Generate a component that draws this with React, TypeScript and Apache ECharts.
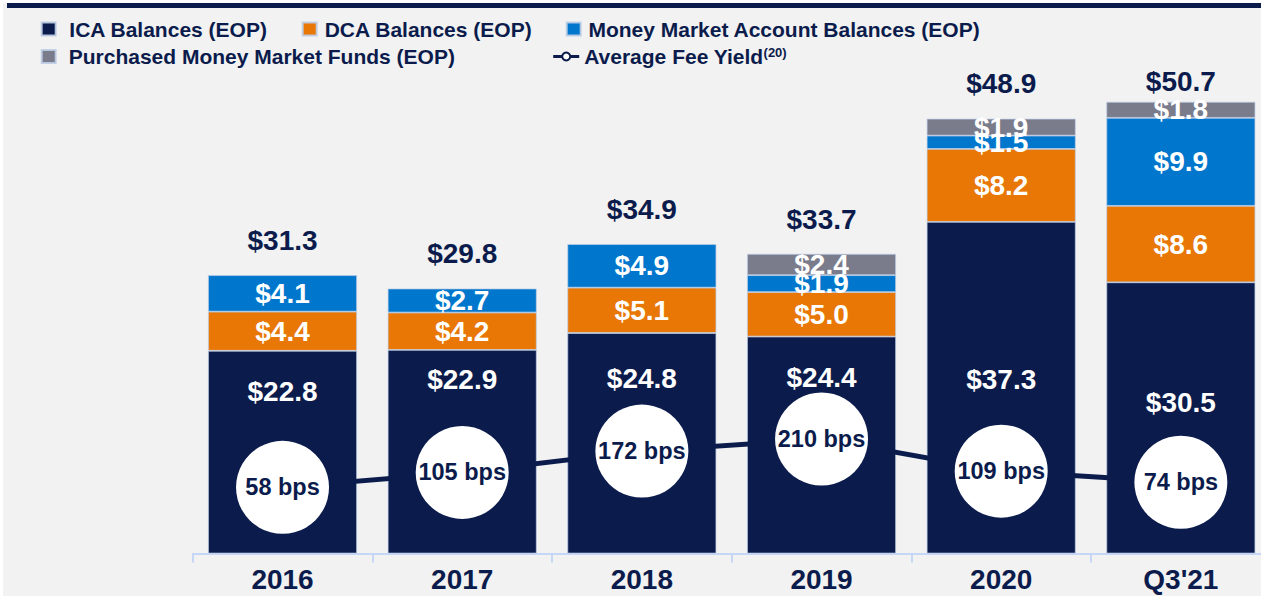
import React, { useEffect, useRef } from "react";
import * as echarts from "echarts";

const categories = ["2016", "2017", "2018", "2019", "2020", "Q3'21"];
const icaBalances = [22.8, 22.9, 24.8, 24.4, 37.3, 30.5];
const dcaBalances = [4.4, 4.2, 5.1, 5.0, 8.2, 8.6];
const mmaBalances = [4.1, 2.7, 4.9, 1.9, 1.5, 9.9];
const purchasedMmf = [null, null, null, 2.4, 1.9, 1.8];
const totals = [31.3, 29.8, 34.9, 33.7, 48.9, 50.7];
const feeYieldBps = [58, 105, 172, 210, 109, 74];

// label placement tweaks (style only)
const icaLabelShift = [-61, -72, -65, -68, -8, -15];
const totalLabelGap = [21, 21, 20, 20, 21, 7];

const NAVY = "#0b1c4c";
const ORANGE = "#e87706";
const BLUE = "#0077cc";
const GRAY = "#7a7c8c";
const FONT = "'Liberation Sans', Arial, sans-serif";

const money = (v: number) => "$" + v.toFixed(1);

export default function App() {
  const ref = useRef<HTMLDivElement>(null);
  useEffect(() => {
    if (!ref.current) return;
    const chart = echarts.init(ref.current, undefined, { renderer: "svg" });
    const segLabel = {
      show: true,
      position: "inside",
      color: "#ffffff",
      fontFamily: FONT,
      fontWeight: "bold",
      fontSize: 28,
      formatter: (p: any) => (p.value == null ? "" : money(p.value)),
    };
    const barItem = (color: string) => ({
      color,
      borderColor: "rgba(190,205,230,0.9)",
      borderWidth: 0.8,
    });
    const legendText = (pad: number) => ({
      color: NAVY,
      fontFamily: FONT,
      fontWeight: "bold",
      fontSize: 21,
      lineHeight: 22,
      padding: [0, 0, 0, pad],
      rich: {
        a: { color: NAVY, fontFamily: FONT, fontWeight: "bold", fontSize: 21, lineHeight: 22 },
        s: { color: NAVY, fontFamily: FONT, fontWeight: "bold", fontSize: 13, lineHeight: 22, verticalAlign: "top", padding: [0, 0, 6, 0] },
      },
    });
    const sqLegend = (name: string, left: number, top: number, pad: number) => ({
      data: [name],
      left,
      top,
      padding: 0,
      itemWidth: 14,
      itemHeight: 13,
      icon: "rect",
      selectedMode: false,
      textStyle: legendText(pad),
    });
    const option: any = {
      animation: false,
      backgroundColor: "#ffffff",
      graphic: [
        { type: "rect", z: -10, shape: { x: 3, y: 3, width: 1258, height: 593 }, style: { fill: "#f2f2f2" }, silent: true },
        { type: "rect", z: -9, shape: { x: 7, y: 3, width: 1254, height: 5 }, style: { fill: NAVY }, silent: true },
      ],
      legend: [
        sqLegend("ICA Balances (EOP)", 40.7, 18, 8.6),
        sqLegend("DCA Balances (EOP)", 301.7, 18, 3),
        sqLegend("Money Market Account Balances (EOP)", 565.7, 18, 2.7),
        sqLegend("Purchased Money Market Funds (EOP)", 40.7, 45.5, 8),
        {
          data: ["Average Fee Yield"],
          left: 551.7,
          top: 45.5,
          padding: 0,
          itemWidth: 26,
          itemHeight: 10,
          selectedMode: false,
          itemStyle: { color: "#ffffff", borderColor: NAVY, borderWidth: 2 },
          lineStyle: { color: NAVY, width: 3 },
          formatter: () => "{a|Average Fee Yield}{s|(20)}",
          textStyle: legendText(0),
        },
      ],
      grid: { left: 192.7, top: 20, width: 1078, height: 533.5, outerBoundsMode: "none", containLabel: false },
      xAxis: {
        type: "category",
        data: categories,
        axisLine: { show: true, lineStyle: { color: "#c6d6f6", width: 2 } },
        axisTick: { show: true, length: 9, alignWithLabel: false, lineStyle: { color: "#c6d6f6", width: 2 } },
        axisLabel: { margin: 12, fontSize: 28, fontWeight: "bold", color: NAVY, fontFamily: FONT },
        splitLine: { show: false },
      },
      yAxis: [
        { type: "value", min: 0, max: 60, show: false, splitLine: { show: false } },
        { type: "value", min: -150, max: 1528, show: false, splitLine: { show: false } },
      ],
      series: [
        {
          name: "ICA Balances (EOP)",
          type: "bar",
          stack: "bal",
          barWidth: 149,
          itemStyle: barItem(NAVY),
          label: segLabel,
          data: icaBalances.map((v, i) => ({ value: v, label: { offset: [0, icaLabelShift[i]] } })),
        },
        {
          name: "DCA Balances (EOP)",
          type: "bar",
          stack: "bal",
          barWidth: 149,
          itemStyle: barItem(ORANGE),
          label: segLabel,
          data: dcaBalances,
        },
        {
          name: "Money Market Account Balances (EOP)",
          type: "bar",
          stack: "bal",
          barWidth: 149,
          itemStyle: barItem(BLUE),
          label: segLabel,
          data: mmaBalances,
        },
        {
          name: "Purchased Money Market Funds (EOP)",
          type: "bar",
          stack: "bal",
          barWidth: 149,
          itemStyle: barItem(GRAY),
          label: segLabel,
          data: purchasedMmf,
        },
        {
          name: "Total",
          type: "bar",
          barWidth: 149,
          barGap: "-100%",
          silent: true,
          z: 1,
          itemStyle: { color: "rgba(0,0,0,0)" },
          label: {
            show: true,
            position: "top",
            color: NAVY,
            fontFamily: FONT,
            fontWeight: "bold",
            fontSize: 28,
            formatter: (p: any) => money(p.value),
          },
          data: totals.map((v, i) => ({ value: v, label: { distance: totalLabelGap[i] } })),
        },
        {
          name: "Average Fee Yield",
          type: "line",
          yAxisIndex: 1,
          z: 5,
          symbol: "circle",
          symbolSize: 93,
          itemStyle: { color: "#ffffff" },
          lineStyle: { color: NAVY, width: 5 },
          label: {
            show: true,
            position: "inside",
            color: NAVY,
            fontFamily: FONT,
            fontWeight: "bold",
            fontSize: 23.5,
            formatter: (p: any) => p.value + " bps",
          },
          data: feeYieldBps,
        },
      ],
    };
    chart.setOption(option);
    return () => chart.dispose();
  }, []);
  return (
    <div
      ref={ref}
      style={{ position: "fixed", left: 0, top: 0, width: 1261, height: 596 }}
    />
  );
}
